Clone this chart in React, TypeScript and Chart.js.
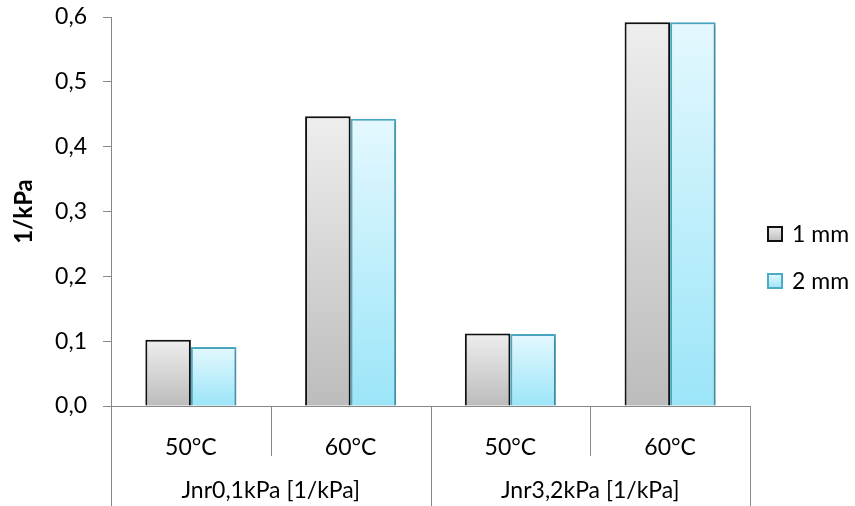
import React, { useEffect, useRef } from "react";
import { Chart, registerables } from "chart.js";

Chart.register(...registerables);

const categories = ["50°C", "60°C", "50°C", "60°C"];
const groups = ["Jnr0,1kPa [1/kPa]", "Jnr3,2kPa [1/kPa]"];
const groupSize = 2;
const series1mm = [0.102, 0.447, 0.112, 0.592];
const series2mm = [0.091, 0.443, 0.111, 0.592];
const seriesLabels = ["1 mm", "2 mm"];
const yTicks = [0, 0.1, 0.2, 0.3, 0.4, 0.5, 0.6];

const FONT = "Lato, 'Open Sans', sans-serif";
const AXIS = "#878787";

const palettes = [
  { top: "#eeeeee", bottom: "#bcbcbc", border: "#111111" },
  { top: "#e4f8fe", bottom: "#9be5f8", border: "#4bacc6" },
];

function gradientFor(pi: number) {
  return (ctx: any) => {
    const chart = ctx.chart;
    const p = palettes[pi];
    const y = chart.scales && chart.scales.y;
    if (!y || ctx.type !== "data") return p.bottom;
    const t = y.getPixelForValue(ctx.raw);
    const b = y.getPixelForValue(0);
    if (!isFinite(t) || !isFinite(b) || t === b) return p.bottom;
    const g = chart.ctx.createLinearGradient(0, t, 0, b);
    g.addColorStop(0, p.top);
    g.addColorStop(1, p.bottom);
    return g;
  };
}

const decorPlugin = {
  id: "decor",
  beforeDatasetDraw(chart: any) {
    const c = chart.ctx;
    c.save();
    c.shadowColor = "rgba(0,0,0,0.22)";
    c.shadowBlur = 4;
    c.shadowOffsetX = 2;
    c.shadowOffsetY = 1;
  },
  afterDatasetDraw(chart: any) {
    chart.ctx.restore();
  },
  afterDraw(chart: any) {
    const c = chart.ctx;
    const x = chart.scales.x;
    const area = chart.chartArea;
    const n = categories.length;
    const half = (x.getPixelForValue(1) - x.getPixelForValue(0)) / 2;
    c.save();
    c.strokeStyle = AXIS;
    c.lineWidth = 1;
    for (let i = 0; i <= n; i++) {
      const px = Math.round(x.getPixelForValue(Math.min(i, n - 1)) + (i === n ? half : -half)) + 0.5;
      const isGroup = i % groupSize === 0;
      const yEnd = isGroup ? chart.height : area.bottom + 50;
      c.beginPath();
      c.moveTo(px, area.bottom);
      c.lineTo(px, yEnd);
      c.stroke();
    }
    c.fillStyle = "#000";
    c.font = `23px ${FONT}`;
    c.textAlign = "center";
    c.textBaseline = "middle";
    groups.forEach((g, gi) => {
      const a = x.getPixelForValue(gi * groupSize) - half;
      const b = x.getPixelForValue(gi * groupSize + groupSize - 1) + half;
      c.fillText(g, (a + b) / 2, area.bottom + 85);
    });
    const lx = area.right + 18;
    const ly0 = 234;
    const gap = 47;
    chart.data.datasets.forEach((ds: any, i: number) => {
      const cy = ly0 + i * gap;
      const p = palettes[i];
      const g = c.createLinearGradient(0, cy - 7, 0, cy + 7);
      g.addColorStop(0, p.top);
      g.addColorStop(1, p.bottom);
      c.fillStyle = g;
      c.fillRect(lx, cy - 7, 14, 14);
      c.strokeStyle = p.border;
      c.lineWidth = 2;
      c.strokeRect(lx, cy - 7, 14, 14);
      c.fillStyle = "#000";
      c.textAlign = "left";
      c.font = `23px ${FONT}`;
      c.fillText(ds.label, lx + 24, cy + 1);
    });
    c.restore();
  },
};

export default function App() {
  const ref = useRef<HTMLCanvasElement | null>(null);
  useEffect(() => {
    document.body.style.margin = "0";
    const canvas = ref.current;
    if (!canvas) return;
    const chart = new Chart(canvas, {
      type: "bar",
      data: {
        labels: categories,
        datasets: [
          {
            label: seriesLabels[0],
            data: series1mm,
            backgroundColor: gradientFor(0),
            borderColor: palettes[0].border,
            borderWidth: 2,
            borderSkipped: "start",
          },
          {
            label: seriesLabels[1],
            data: series2mm,
            backgroundColor: gradientFor(1),
            borderColor: palettes[1].border,
            borderWidth: 2,
            borderSkipped: "start",
          },
        ],
      },
      options: {
        responsive: false,
        animation: false,
        devicePixelRatio: 1,
        layout: { padding: { top: 17, right: 105, bottom: 0, left: 0 } },
        plugins: { legend: { display: false }, tooltip: { enabled: false } },
        datasets: { bar: { categoryPercentage: 0.57, barPercentage: 1 } },
        scales: {
          x: {
            grid: { display: false },
            border: { display: true, color: AXIS, width: 1 },
            ticks: { font: { family: FONT, size: 23 }, color: "#000", padding: 20, maxRotation: 0 },
            afterFit: (s: any) => {
              s.height = 100;
              s.paddingLeft = 0;
              s.paddingRight = 0;
            },
          },
          y: {
            min: 0,
            max: 0.6,
            afterBuildTicks: (s: any) => {
              s.ticks = yTicks.map((v) => ({ value: v }));
            },
            grid: { display: true, drawOnChartArea: false, drawTicks: true, tickLength: 8, color: AXIS },
            border: { display: true, color: AXIS, width: 1 },
            ticks: {
              font: { family: FONT, size: 23 },
              color: "#000",
              padding: 16,
              callback: (v: any) => Number(v).toFixed(1).replace(".", ","),
            },
            title: {
              display: true,
              text: "1/kPa",
              font: { family: FONT, size: 24, weight: "bold" },
              color: "#000",
              padding: { top: 10, bottom: 0 },
            },
            afterFit: (s: any) => {
              s.width = 111;
              s.paddingTop = 0;
              s.paddingBottom = 0;
            },
          },
        },
      },
      plugins: [decorPlugin],
    });
    return () => chart.destroy();
  }, []);
  return (
    <div style={{ width: 855, height: 506, background: "#fff" }}>
      <canvas ref={ref} width={855} height={506} />
    </div>
  );
}
